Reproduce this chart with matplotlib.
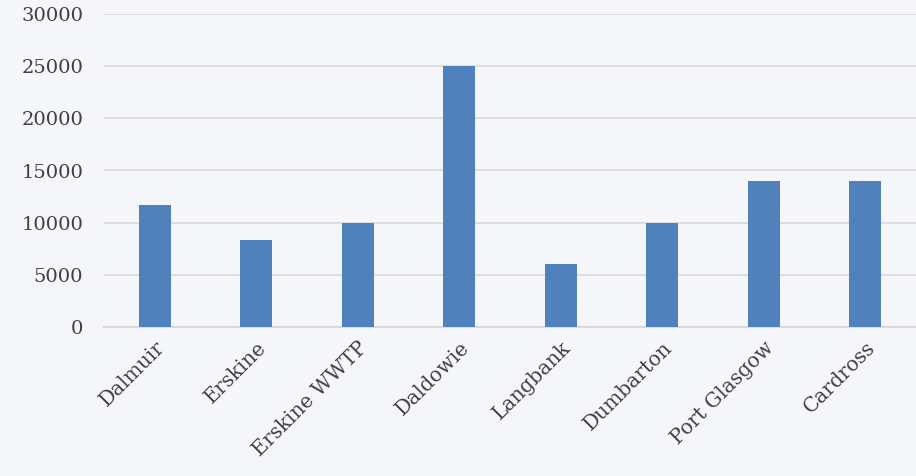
import matplotlib
matplotlib.use("Agg")
import matplotlib.pyplot as plt
import numpy as np

sites = ["Dalmuir", "Erskine", "Erskine WWTP", "Daldowie", "Langbank",
         "Dumbarton", "Port Glasgow", "Cardross"]
values = [11700, 8300, 10000, 25000, 6000, 10000, 14000, 14000]
yticks = [0, 5000, 10000, 15000, 20000, 25000, 30000]

bg = "#f5f6fa"
plt.rcParams["font.family"] = ["DejaVu Serif"]

fig = plt.figure(figsize=(9.16, 4.76), dpi=100, facecolor=bg)
ax = fig.add_axes([104 / 916, 149 / 476, 812 / 916, 313 / 476], facecolor=bg)

x = np.arange(len(sites))
ax.bar(x, values, width=0.315, color="#4f81bd", zorder=3)

ax.set_xlim(-0.5, len(sites) - 0.5)
ax.set_ylim(0, 30000)
ax.set_yticks(yticks)
ax.set_yticklabels([str(v) for v in yticks], fontsize=14, color="#404040")
ax.set_xticks(x)
ax.set_xticklabels(sites, rotation=45, ha="right", rotation_mode="anchor",
                   fontsize=14.5, color="#404040")
ax.tick_params(length=0, axis="both")
ax.tick_params(axis="y", pad=15)
ax.tick_params(axis="x", pad=8)

ax.grid(axis="y", color="#dcdcdc", linewidth=1.3, zorder=0)
for s in ["top", "right", "left"]:
    ax.spines[s].set_visible(False)
ax.spines["bottom"].set_color("#d9d9d9")
ax.spines["bottom"].set_linewidth(1.5)

fig.savefig("out.png", dpi=100, facecolor=bg)
